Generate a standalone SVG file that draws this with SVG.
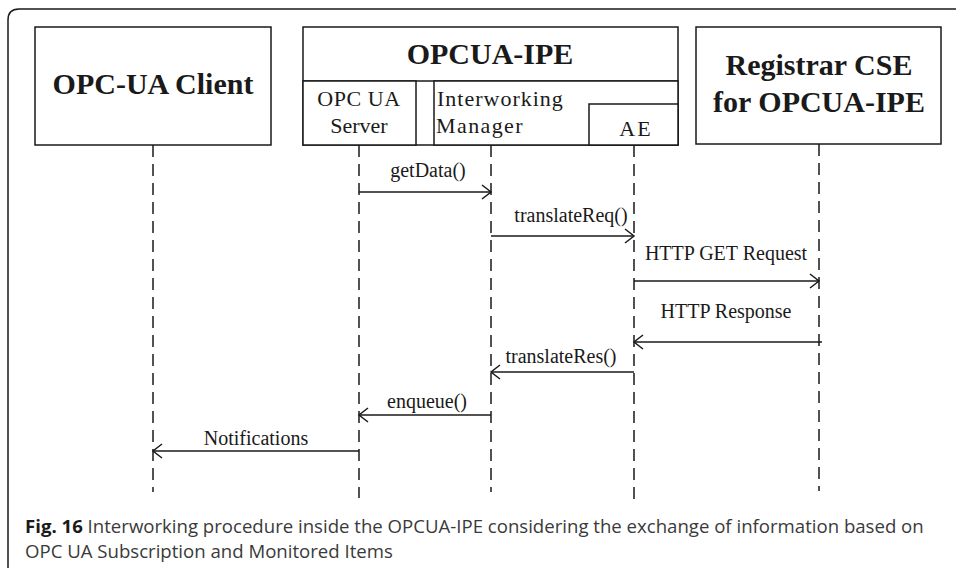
<svg xmlns="http://www.w3.org/2000/svg" width="956" height="568" viewBox="0 0 956 568">
<defs>
<style>
.box{fill:#fff;stroke:#1a1a1a;stroke-width:1.5}
.life{stroke:#1a1a1a;stroke-width:1.5;stroke-dasharray:12 7;fill:none}
.msg{stroke:#1a1a1a;stroke-width:1.5;fill:none;marker-end:url(#open)}
.title{font-family:"Liberation Serif","Times New Roman",serif;font-weight:bold;font-size:30px;fill:#1a1a1a;text-anchor:middle}
.lbl{font-family:"Liberation Serif","Times New Roman",serif;font-size:22px;fill:#1a1a1a}
.mlbl{font-family:"Liberation Serif","Times New Roman",serif;font-size:20px;fill:#1a1a1a;text-anchor:middle}
.cap{font-family:"Open Sans","Noto Sans",sans-serif;font-size:18.6px;fill:#3a3a3a}
</style>
<marker id="open" markerUnits="userSpaceOnUse" markerWidth="20" markerHeight="20" refX="10" refY="10" orient="auto">
<path d="M1,3 L10,10 L1,17" fill="none" stroke="#1a1a1a" stroke-width="1.5"/>
</marker>
</defs>
<rect width="956" height="568" fill="#fff"/>
<path d="M8,568 L8,20 Q8,9 19,9 L956,9" fill="none" stroke="#1a1a1a" stroke-width="1.5"/>

<g id="client">
<rect class="box" x="35" y="27" width="236" height="118"/>
<text class="title" x="153" y="94">OPC-UA Client</text>
</g>

<g id="opcua-ipe">
<rect class="box" x="303" y="27" width="375" height="118"/>
<line x1="303" y1="81" x2="678" y2="81" stroke="#1a1a1a" stroke-width="1.5"/>
<text class="title" x="490" y="64">OPCUA-IPE</text>
</g>

<g id="opcua-server">
<rect class="box" x="303" y="81" width="113" height="64"/>
<text class="lbl" x="359" y="106" text-anchor="middle" letter-spacing="0.6">OPC UA</text>
<text class="lbl" x="359" y="133" text-anchor="middle">Server</text>
</g>

<g id="interworking-manager">
<rect class="box" x="434" y="81" width="244" height="64"/>
<text class="lbl" x="437" y="106" letter-spacing="1">Interworking</text>
<text class="lbl" x="436" y="133" letter-spacing="1.4">Manager</text>
</g>

<g id="ae">
<rect class="box" x="589" y="104" width="89" height="41"/>
<text class="lbl" x="636" y="136" text-anchor="middle" letter-spacing="2">AE</text>
</g>

<g id="registrar">
<rect class="box" x="696" y="27" width="245" height="117"/>
<text class="title" x="819" y="75">Registrar CSE</text>
<text class="title" x="819" y="112">for OPCUA-IPE</text>
</g>

<g id="lifelines">
<line class="life" x1="153" y1="145" x2="153" y2="492"/>
<line class="life" x1="359" y1="145" x2="359" y2="498"/>
<line class="life" x1="491" y1="145" x2="491" y2="492"/>
<line class="life" x1="634" y1="145" x2="634" y2="499"/>
<line class="life" x1="819" y1="144" x2="819" y2="491"/>
</g>

<g id="connectors">
<line class="msg" x1="359" y1="192" x2="491" y2="192"/>
<line class="msg" x1="491" y1="236" x2="634" y2="236"/>
<line class="msg" x1="634" y1="281" x2="819" y2="281"/>
<line class="msg" x1="822" y1="342" x2="634" y2="342"/>
<line class="msg" x1="634" y1="372" x2="491" y2="372"/>
<line class="msg" x1="491" y1="415" x2="359" y2="415"/>
<line class="msg" x1="359" y1="451" x2="153" y2="451"/>
<text class="mlbl" x="428" y="177">getData()</text>
<text class="mlbl" x="571" y="222">translateReq()</text>
<text class="mlbl" x="726" y="260">HTTP GET Request</text>
<text class="mlbl" x="726" y="318">HTTP Response</text>
<text class="mlbl" x="561" y="363">translateRes()</text>
<text class="mlbl" x="427" y="408">enqueue()</text>
<text class="mlbl" x="256" y="445">Notifications</text>
</g>

<g id="caption">
<text class="cap" x="25" y="533"><tspan font-weight="bold" fill="#1a1a1a">Fig. 16</tspan> Interworking procedure inside the OPCUA-IPE considering the exchange of information based on</text>
<text class="cap" x="25" y="558">OPC UA Subscription and Monitored Items</text>
</g>
</svg>
